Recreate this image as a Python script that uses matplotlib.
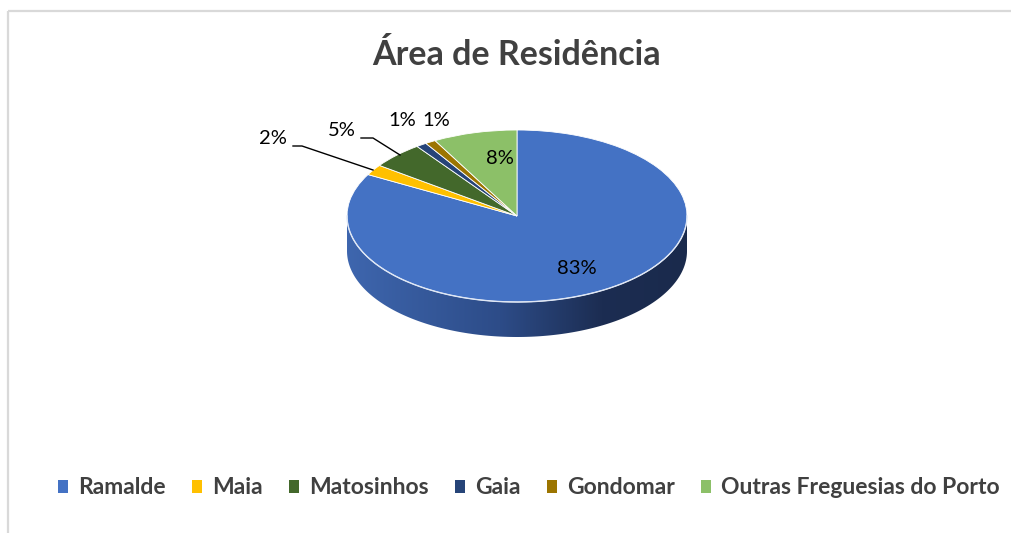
import numpy as np
import matplotlib
matplotlib.use("Agg")
import matplotlib.pyplot as plt
from matplotlib.patches import Wedge, Rectangle, Patch, PathPatch
from matplotlib.path import Path
from matplotlib.colors import LinearSegmentedColormap
import matplotlib.transforms as mtransforms

# dados
categorias = ["Ramalde", "Maia", "Matosinhos", "Gaia", "Gondomar", "Outras Freguesias do Porto"]
percentagens = [83, 2, 5, 1, 1, 8]
cores = ["#4472c4", "#ffc000", "#43682b", "#264478", "#9c7500", "#8cc068"]
rotulos = ["83%", "2%", "5%", "1%", "1%", "8%"]

plt.rcParams['font.family'] = ['Lato', 'DejaVu Sans']

W, H = 1011, 533
fig = plt.figure(figsize=(W / 100, H / 100), dpi=100)
ax = fig.add_axes([0, 0, 1, 1])
ax.set_xlim(0, W)
ax.set_ylim(H, 0)
ax.axis('off')

# moldura do grafico
ax.add_patch(Rectangle((7.5, 10.5), 1200, 800, fill=False, edgecolor="#d9d9d9", lw=1.6))

# geometria da tarte 3D
cx, cy = 517, 216
rx, ry = 170, 86
prof = 35
elip = mtransforms.Affine2D().scale(rx, -ry).translate(cx, cy) + ax.transData

# lateral (frente) com gradiente
t = np.linspace(np.pi, 2 * np.pi, 200)
xs = np.cos(t)
ys = np.sin(t)
pts_topo = np.column_stack([cx + rx * xs, cy - ry * ys])
pts_base = np.column_stack([cx + rx * xs[::-1], cy - ry * ys[::-1] + prof])
verts = np.vstack([pts_topo, pts_base, pts_topo[:1]])
lado = Path(verts, closed=True)
clip = PathPatch(lado, facecolor="none", edgecolor="none", transform=ax.transData)
ax.add_patch(clip)
grad_cmap = LinearSegmentedColormap.from_list(
    "lado", [(0, "#3e66ae"), (0.45, "#2d4c88"), (0.75, "#1c2d52"), (1, "#1a2a4c")])
g = np.linspace(0, 1, 256).reshape(1, -1)
im = ax.imshow(g, cmap=grad_cmap, extent=[cx - rx, cx + rx, cy + ry + prof, cy - 5],
               aspect='auto', zorder=1, interpolation='bilinear')
im.set_clip_path(clip)

# topo: fatias no sentido horario a partir das 12h
inicio = 90.0
for v, c in zip(percentagens, cores):
    fim = inicio - v * 3.6
    ax.add_patch(Wedge((0, 0), 1, fim, inicio, facecolor=c, edgecolor="white",
                       lw=0.6, transform=elip, zorder=2))
    inicio = fim

# brilho na borda frontal
ax.plot(pts_topo[:, 0], pts_topo[:, 1], color="#dfe7f5", lw=1.0, zorder=3)

# rotulos de dados
pos_rotulos = [(577, 269), (273, 138), (342, 131), (402, 121), (436, 121), (500, 158)]
for txt, (x, y) in zip(rotulos, pos_rotulos):
    ax.text(x, y, txt, ha="center", va="center", fontsize=14.5, color="#000000", zorder=5)

# linhas de chamada
ax.plot([293, 302, 373], [146, 146, 170], color="black", lw=1, zorder=4)
ax.plot([361, 373, 400], [138, 138, 155], color="black", lw=1, zorder=4)

# titulo
ax.text(517, 55, "Área de Residência", ha="center", va="center", fontsize=24.5,
        fontweight="bold", color="#404040")

# legenda
handles = [Patch(facecolor=c, edgecolor="none") for c in cores]
leg = fig.legend(handles, categorias, loc="center", bbox_to_anchor=(529 / W, 1 - 488 / H),
                 ncol=6, frameon=False, handlelength=0.42, handleheight=0.48,
                 handletextpad=0.45, columnspacing=1.15,
                 prop={"weight": "bold", "size": 16.5})
for t_ in leg.get_texts():
    t_.set_color("#404040")

fig.savefig("out.png", dpi=100)
